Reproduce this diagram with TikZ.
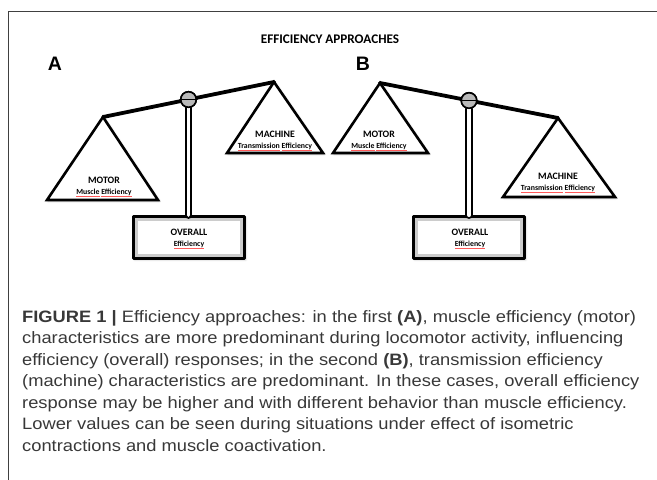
\documentclass[tikz,border=0pt]{standalone}
\usepackage{fontspec}
\setmainfont{Carlito}
\newfontfamily\capfont[FakeStretch=1.11]{Liberation Sans}
\newfontfamily\panelfont{Liberation Sans}
\usetikzlibrary{positioning,calc,shadows.blur}
\newsavebox\spellbox
\newcommand\spell[1]{\sbox\spellbox{#1}\leavevmode\rlap{\usebox\spellbox}\raisebox{-1.6pt}{\textcolor{red!65}{\rule{\wd\spellbox}{0.4pt}}}}

\begin{document}
\begin{tikzpicture}[
    x={(1pt,0pt)}, y={(0pt,-1pt)}, line join=round, line cap=round,
    pan/.style={draw, line width=2.6pt, line join=miter, fill=white,
      blur shadow={shadow xshift=1.2pt, shadow yshift=-1.2pt, shadow blur radius=2pt, shadow opacity=30}},
    beam/.style={line width=3.8pt},
    post/.style={draw, line width=1.9pt, double=white, double distance=3.6pt},
    pivot/.style={circle, draw, line width=1.6pt, fill=gray!55, minimum size=15.5pt, inner sep=0pt},
    basebox/.style={draw, line width=2.6pt, fill=gray!40, minimum width=111pt, minimum height=42pt, inner sep=0pt,
      blur shadow={shadow xshift=1.2pt, shadow yshift=-1.2pt, shadow blur radius=2pt, shadow opacity=30}},
    head/.style={font=\bfseries\fontsize{9.8}{11}\selectfont},
    sub/.style={font=\bfseries\fontsize{7.8}{9}\selectfont},
    panel/.style={font=\panelfont\bfseries\fontsize{19.5}{22}\selectfont}]
  \useasboundingbox (0,0) rectangle (657,480);
  % Marco de la figura
  \draw[black!75, line width=0.9pt] (657,11) -- (8,11) -- (8,480);
  \node[font=\bfseries\fontsize{13.2}{15}\selectfont] (title) at (330,39) {EFFICIENCY APPROACHES};
  \node[panel] (labA) at (55,64) {A};
  \node[panel] (labB) at (363,64) {B};

  % Balanza A
  \coordinate (apexAL) at (103,117);
  \coordinate (apexAR) at (274,82);
  \draw[pan] (apexAL) -- (47,200) -- (158,200) -- cycle;
  \draw[pan] (apexAR) -- (227,153) -- (323,153) -- cycle;
  \node[basebox] (boxA) at (189,237.5) {};
  \fill[white] ([shift={(6,6)}]boxA.north west) rectangle ([shift={(-6,-6)}]boxA.south east);
  \node[pivot] (pivA) at ($(apexAL)!0.5!(apexAR)$) {};
  \draw[post] (pivA.south) -- (pivA |- boxA.north);
  \draw[beam] (apexAL) -- (apexAR);
  \node[pivot] at (pivA) {};
  \draw[line width=1.2pt] (pivA.west) -- (pivA.east);
  \node[head] (motA) at (104,180) {MOTOR};
  \node[sub] (motAsub) at (104,193) {\spell{Muscle} \spell{Efficiency}};
  \node[head] (macA) at (275,134) {MACHINE};
  \node[sub] (macAsub) at (275,147) {\spell{Transmission} \spell{Efficiency}};
  \node[head] (ovA) at (189,232) {OVERALL};
  \node[sub] (ovAsub) at (189,245) {\spell{Efficiency}};

  % Balanza B
  \coordinate (apexBL) at (380,83);
  \coordinate (apexBR) at (558,118);
  \draw[pan] (apexBL) -- (333,153) -- (428,153) -- cycle;
  \draw[pan] (apexBR) -- (503,197) -- (615,197) -- cycle;
  \node[basebox] (boxB) at (469,237.5) {};
  \fill[white] ([shift={(6,6)}]boxB.north west) rectangle ([shift={(-6,-6)}]boxB.south east);
  \node[pivot] (pivB) at ($(apexBL)!0.5!(apexBR)$) {};
  \draw[post] (pivB.south) -- (pivB |- boxB.north);
  \draw[beam] (apexBL) -- (apexBR);
  \node[pivot] at (pivB) {};
  \draw[line width=1.2pt] (pivB.west) -- (pivB.east);
  \node[head] (motB) at (379,134) {MOTOR};
  \node[sub] (motBsub) at (379,147) {\spell{Muscle} \spell{Efficiency}};
  \node[head] (macB) at (558,176) {MACHINE};
  \node[sub] (macBsub) at (558,189) {\spell{Transmission} \spell{Efficiency}};
  \node[head] (ovB) at (470,232) {OVERALL};
  \node[sub] (ovBsub) at (470,245) {\spell{Efficiency}};

  % Leyenda
  \node[anchor=north west, align=left, inner sep=0pt, text=black!78,
        font=\capfont\fontsize{16.5}{21.5}\selectfont] (caption) at (22,310)
    {\textbf{FIGURE 1 |} Efficiency approaches: in the first \textbf{(A)}, muscle efficiency (motor)\\
     characteristics are more predominant during locomotor activity, influencing\\
     efficiency (overall) responses; in the second \textbf{(B)}, transmission efficiency\\
     (machine) characteristics are predominant. In these cases, overall efficiency\\
     response may be higher and with different behavior than muscle efficiency.\\
     Lower values can be seen during situations under effect of isometric\\
     contractions and muscle coactivation.};
\end{tikzpicture}
\end{document}
